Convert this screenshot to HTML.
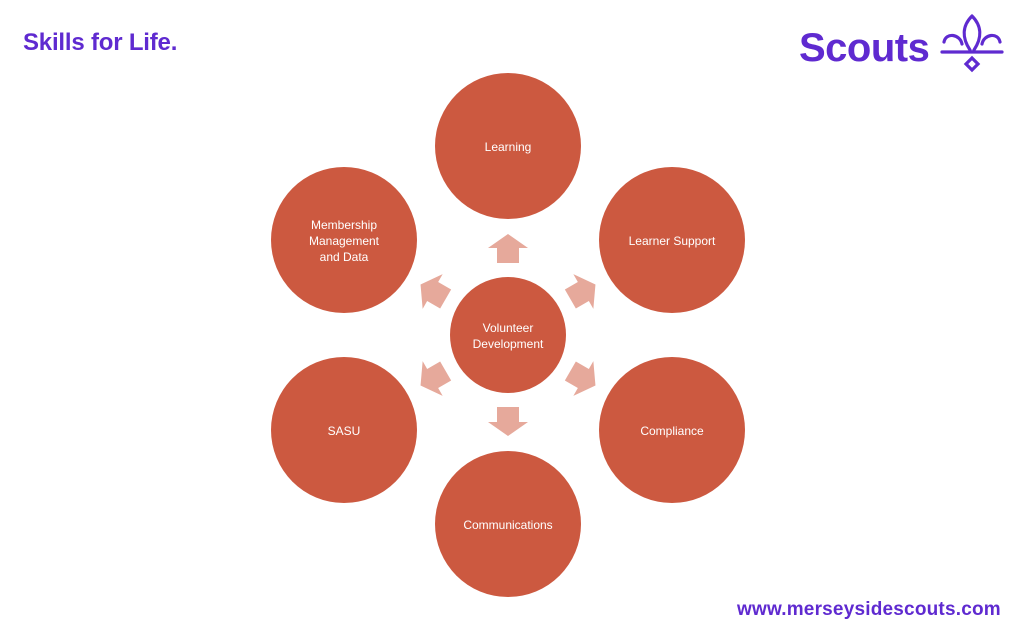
<!DOCTYPE html>
<html><head><meta charset="utf-8"><style>
html,body{margin:0;padding:0;background:#fff;}
body{width:1024px;height:640px;overflow:hidden;position:relative;font-family:"Liberation Sans","Noto Sans CJK SC",sans-serif;}
.t{position:absolute;color:#5f2ad0;font-weight:bold;white-space:nowrap;}
</style></head><body>
<div class="t" style="left:23px;top:29px;font-size:24px;letter-spacing:-0.2px;">Skills for Life.</div>
<div class="t" style="left:799px;top:26px;font-size:40px;letter-spacing:-0.5px;">Scouts</div>
<div class="t" style="left:737px;top:599px;font-size:19px;letter-spacing:0.2px;">www.merseysidescouts.com</div>
<svg width="1024" height="640" style="position:absolute;left:0;top:0" font-family="Liberation Sans, sans-serif">
<g fill="none" stroke="#5f2ad0" stroke-width="3.2" stroke-linecap="round">
<path d="M972 16 C962 26 962 38 970 50 M972 16 C982 26 982 38 974 50"/>
<path d="M944 42 C946 32 960 34 962 44 M1000 42 C998 32 984 34 982 44"/>
<path d="M942 52 L1002 52"/>
<path d="M972 58 L966 64 L972 70 L978 64 Z"/>
</g>
<g fill="#cc5940">
<circle cx="508" cy="146" r="73"/>
<circle cx="672" cy="240" r="73"/>
<circle cx="672" cy="430" r="73"/>
<circle cx="508" cy="524" r="73"/>
<circle cx="344" cy="430" r="73"/>
<circle cx="344" cy="240" r="73"/>
<circle cx="508" cy="335" r="58"/>
</g>
<g fill="#e6a99b">
<path id="ar" d="M508 234 L528 248 L519 248 L519 263 L497 263 L497 248 L488 248 Z"/>
<use href="#ar" transform="rotate(60 508 335)"/>
<use href="#ar" transform="rotate(120 508 335)"/>
<use href="#ar" transform="rotate(180 508 335)"/>
<use href="#ar" transform="rotate(240 508 335)"/>
<use href="#ar" transform="rotate(300 508 335)"/>
</g>
<g fill="#fff" font-size="12" text-anchor="middle">
<text x="508" y="151">Learning</text>
<text x="672" y="245">Learner Support</text>
<text x="672" y="435">Compliance</text>
<text x="508" y="529">Communications</text>
<text x="344" y="435">SASU</text>
<text x="344" y="229">Membership</text>
<text x="344" y="245">Management</text>
<text x="344" y="261">and Data</text>
<text x="508" y="332">Volunteer</text>
<text x="508" y="348">Development</text>
</g>
</svg>
</body></html>
